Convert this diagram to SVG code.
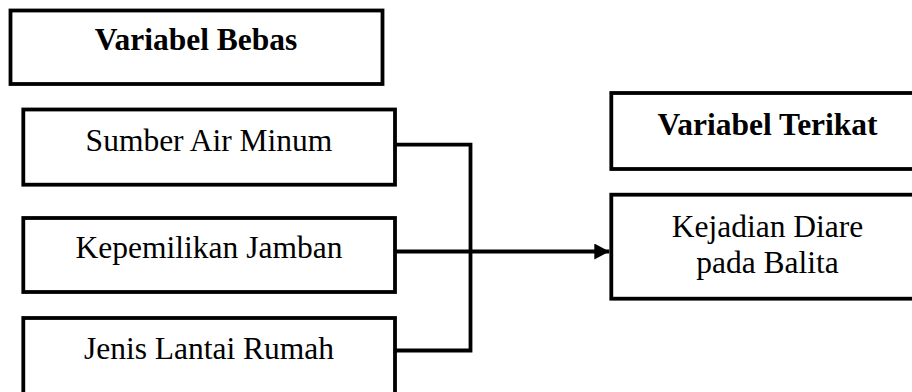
<svg xmlns="http://www.w3.org/2000/svg" width="912" height="392" viewBox="0 0 912 392">
  <style>
    .box { fill: #ffffff; stroke: #000000; stroke-width: 3.8; }
    .lbl { font-family: "Liberation Serif", "Times New Roman", serif; font-size: 31.5px; fill: #000000; text-anchor: middle; }
    .hdr { font-weight: bold; }
    .wire { fill: none; stroke: #000000; stroke-width: 3.8; }
  </style>
  <defs>
    <marker id="head" markerUnits="userSpaceOnUse" markerWidth="16" markerHeight="18" refX="15" refY="8" orient="auto">
      <path d="M0,0 L15,8 L0,16 Z" fill="#000000"/>
    </marker>
  </defs>
  <rect width="912" height="392" fill="#ffffff"/>

  <g id="variabel-bebas">
    <rect class="box" x="10.5" y="10.5" width="372" height="73.5"/>
    <text class="lbl hdr" x="196" y="50">Variabel Bebas</text>
  </g>

  <g id="sumber-air-minum">
    <rect class="box" x="23.3" y="109.5" width="371.7" height="75.2"/>
    <text class="lbl" x="209" y="151">Sumber Air Minum</text>
  </g>

  <g id="kepemilikan-jamban">
    <rect class="box" x="23.3" y="218" width="371.7" height="74"/>
    <text class="lbl" x="209" y="258">Kepemilikan Jamban</text>
  </g>

  <g id="jenis-lantai-rumah">
    <rect class="box" x="23.3" y="318" width="371.7" height="90"/>
    <text class="lbl" x="209" y="358.5">Jenis Lantai Rumah</text>
  </g>

  <g id="variabel-terikat">
    <rect class="box" x="611.3" y="93" width="313" height="76"/>
    <text class="lbl hdr" x="767.5" y="135">Variabel Terikat</text>
  </g>

  <g id="kejadian-diare">
    <rect class="box" x="611.3" y="194.7" width="313" height="104"/>
    <text class="lbl" x="767.5" y="237">Kejadian Diare</text>
    <text class="lbl" x="767.5" y="273">pada Balita</text>
  </g>

  <g id="connectors">
    <path class="wire" d="M395,144.7 H470.5 V350.5 H395"/>
    <path class="wire" d="M395,251.5 H609.3" marker-end="url(#head)"/>
  </g>
</svg>
